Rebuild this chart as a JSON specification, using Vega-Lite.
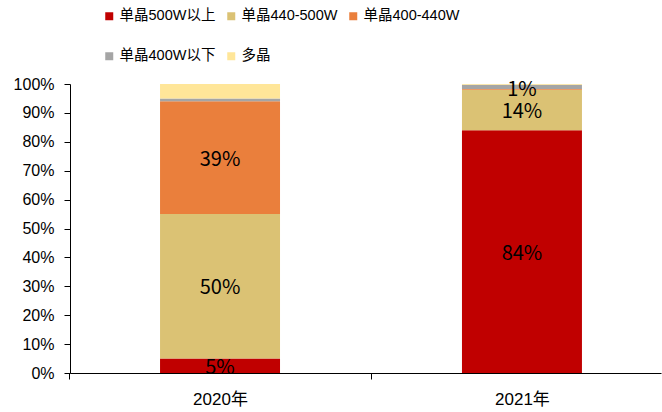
{
  "$schema": "https://vega.github.io/schema/vega-lite/v6.json",
  "autosize": {"type": "none"},
  "width": 591,
  "height": 289,
  "padding": {"left": 70, "top": 84, "right": 1, "bottom": 39},
  "background": "white",
  "config": {
    "view": {"stroke": null},
    "font": "Liberation Sans",
    "axis": {"grid": false, "domainColor": "#000000", "tickColor": "#000000", "labelColor": "#000000", "labelFontSize": 16, "labelFont": "Liberation Sans, Noto Sans CJK SC", "title": null}
  },
  "data": {
    "values": [
      {"year": "2020年", "type": "单晶500W以上", "k": 1, "share": 0.05, "labeled": true},
      {"year": "2020年", "type": "单晶440-500W", "k": 2, "share": 0.50, "labeled": true},
      {"year": "2020年", "type": "单晶400-440W", "k": 3, "share": 0.39, "labeled": true},
      {"year": "2020年", "type": "单晶400W以下", "k": 4, "share": 0.01, "labeled": false},
      {"year": "2020年", "type": "多晶", "k": 5, "share": 0.05, "labeled": false},
      {"year": "2021年", "type": "单晶500W以上", "k": 1, "share": 0.84, "labeled": true},
      {"year": "2021年", "type": "单晶440-500W", "k": 2, "share": 0.14, "labeled": true},
      {"year": "2021年", "type": "单晶400-440W", "k": 3, "share": 0.003, "labeled": false},
      {"year": "2021年", "type": "单晶400W以下", "k": 4, "share": 0.014, "labeled": true},
      {"year": "2021年", "type": "多晶", "k": 5, "share": 0.003, "labeled": false}
    ]
  },
  "encoding": {
    "x": {
      "field": "year",
      "type": "nominal",
      "sort": null,
      "scale": {"paddingInner": 0.6026, "paddingOuter": 0.28, "align": 0.5325},
      "axis": {"labelAngle": 0, "bandPosition": 0, "tickOffset": -91, "labelOffset": 91, "labelFontSize": 17, "tickSize": 6, "labelPadding": 12, "domainWidth": 1}
    },
    "y": {
      "field": "share",
      "type": "quantitative",
      "stack": "zero",
      "scale": {"domain": [0, 1], "nice": false},
      "axis": {"format": ".0%", "values": [0, 0.1, 0.2, 0.3, 0.4, 0.5, 0.6, 0.7, 0.8, 0.9, 1], "tickSize": 6, "labelPadding": 10}
    },
    "order": {"field": "k", "type": "quantitative", "sort": "ascending"}
  },
  "layer": [
    {
      "mark": {"type": "bar"},
      "encoding": {
        "color": {
          "field": "type",
          "type": "nominal",
          "sort": ["单晶500W以上", "单晶440-500W", "单晶400-440W", "单晶400W以下", "多晶"],
          "scale": {
            "domain": ["单晶500W以上", "单晶440-500W", "单晶400-440W", "单晶400W以下", "多晶"],
            "range": ["#C00000", "#DBC274", "#EA7F3C", "#A5A5A5", "#FFE699"]
          },
          "legend": {
            "title": null,
            "orient": "none",
            "legendX": 32,
            "legendY": -75,
            "direction": "horizontal",
            "columns": 3,
            "gridAlign": "none",
            "symbolType": "square",
            "symbolSize": 64,
            "symbolStrokeWidth": 0,
            "labelFont": "Liberation Sans, Noto Sans CJK SC",
            "labelFontSize": 14.5,
            "labelColor": "#000000",
            "labelOffset": 3,
            "columnPadding": 8,
            "rowPadding": 25
          }
        }
      }
    },
    {
      "transform": [{"filter": "datum.labeled"}],
      "mark": {"type": "text", "font": "Noto Sans CJK SC", "fontSize": 20, "color": "#000000", "dy": 2},
      "encoding": {
        "y": {"field": "share", "type": "quantitative", "stack": "zero", "bandPosition": 0.5},
        "text": {"field": "share", "type": "quantitative", "format": ".0%"}
      }
    }
  ]
}
